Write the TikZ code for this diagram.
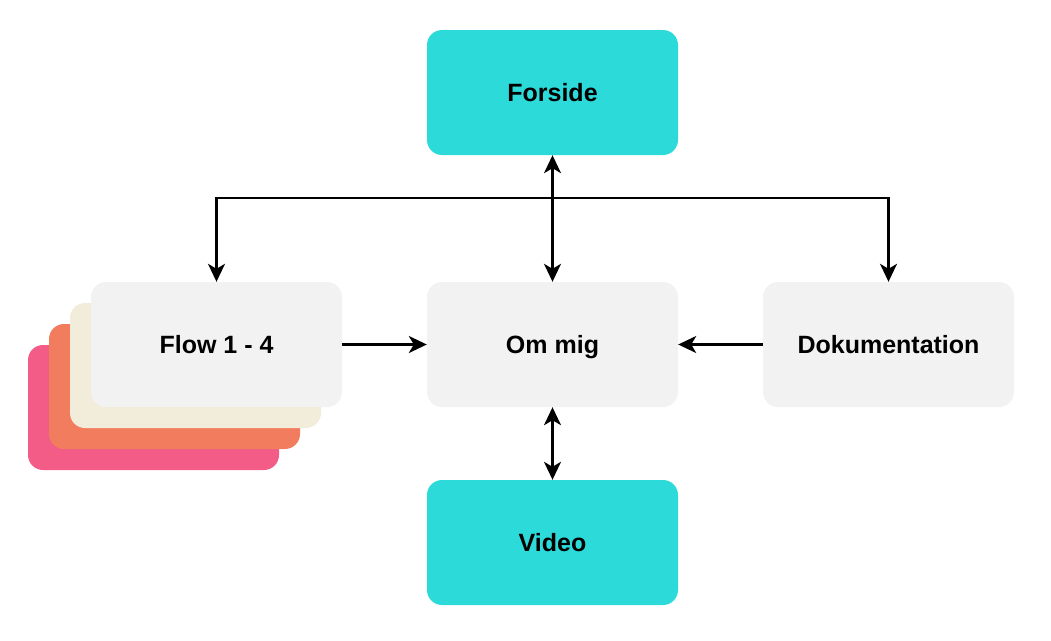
\documentclass[tikz,border=0pt]{standalone}
\usepackage{fontspec}
\setmainfont{Liberation Sans}
\usetikzlibrary{arrows.meta}

\definecolor{teal1}{HTML}{2CDAD9}
\definecolor{grey1}{HTML}{F2F2F2}
\definecolor{cream1}{HTML}{F2ECDA}
\definecolor{orange1}{HTML}{F27C5E}
\definecolor{pink1}{HTML}{F25C86}

\tikzset{
  box/.style={rounded corners=15pt, minimum width=251pt, minimum height=125pt,
    inner sep=0pt, text height=18pt, text depth=0pt,
    font=\fontsize{25}{30}\selectfont\bfseries},
  tip/.tip={Stealth[length=18pt, width=17pt, inset=5pt]},
  link/.style={line width=2.2pt, black, -tip},
  biglink/.style={link, tip-tip}
}

\begin{document}
\begin{tikzpicture}[x=1pt, y=-1pt]

\useasboundingbox (0,0) rectangle (1051,640);

\node[box, fill=pink1] (flow4) at (153.5,407.5){};
\node[box, fill=orange1] (flow3) at (174.5,386.5){};
\node[box, fill=cream1] (flow2) at (195.5,365.5){};
\node[box, fill=grey1] (flow) at (216.5,344.5){Flow 1 - 4};

\node[box, fill=teal1] (forside) at (552.5,92.5){Forside};
\node[box, fill=grey1] (om) at (552.5,344.5){Om mig};
\node[box, fill=grey1] (doc) at (888.5,344.5){Dokumentation};
\node[box, fill=teal1] (video) at (552.5,542.5){Video};

\coordinate (j) at (552.5,198);

\draw[biglink] (forside) to (om);
\draw[link] (j) -| (flow);
\draw[link] (j) -| (doc);
\draw[link] (flow) to (om);
\draw[link] (doc) to (om);
\draw[biglink] (om) to (video);

\end{tikzpicture}
\end{document}
